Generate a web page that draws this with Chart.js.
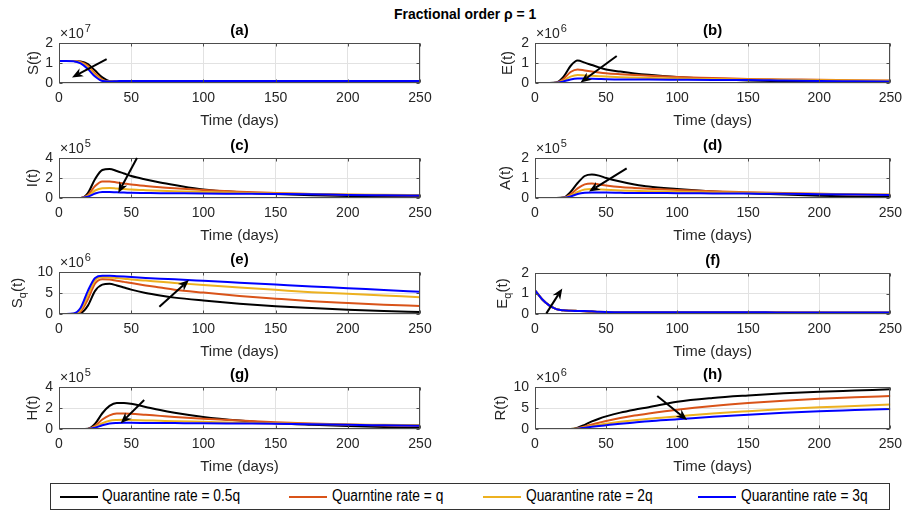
<!DOCTYPE html>
<html>
<head>
<meta charset="utf-8">
<script src="https://cdn.jsdelivr.net/npm/chart.js@4.4.1/dist/chart.umd.min.js"></script>
<style>
  body { margin: 0; background: #fff; font-family: "Liberation Sans", Arial, sans-serif; }
  #page { position: relative; width: 909px; height: 513px; overflow: hidden; }
  canvas { position: absolute; }
  #title { position: absolute; left: 394px; top: 5px; font-weight: bold; font-size: 15px; color: #000; white-space: nowrap; transform: scaleX(0.93); transform-origin: left center; }
  #legend { position: absolute; left: 50px; top: 483px; width: 838px; height: 25px; border: 1px solid #333; background: #fff; }
  #legend .item { position: absolute; top: 3px; font-size: 16px; color: #000; white-space: nowrap; transform: scaleX(0.86); transform-origin: left center; }
  #legend .swatch { position: absolute; top: 12px; width: 38px; height: 2px; }
</style>
</head>
<body>
<div id="page">
  <div id="title">Fractional order ρ = 1</div>
  <div id="legend"></div>
</div>
<script>
// shared time axis (days)
const days = [0, 5, 10, 15, 20, 25, 30, 35, 40, 45, 50, 60, 70, 80, 100, 125, 150, 175, 200, 225, 250];
const xTicks = [0, 50, 100, 150, 200, 250];
const rateLabels = ['Quarantine rate = 0.5q', 'Quarntine rate = q', 'Quarantine rate = 2q', 'Quarantine rate = 3q'];
const rateColors = ['#000000', '#D95319', '#EDB120', '#0000FF'];

// (a) S(t), x10^7
const S_05q = [1.1, 1.1, 1.1, 1.08, 0.95, 0.62, 0.28, 0.09, 0.06, 0.08, 0.1, 0.1, 0.1, 0.1, 0.1, 0.1, 0.1, 0.1, 0.1, 0.1, 0.1];
const S_q   = [1.1, 1.1, 1.1, 1.05, 0.86, 0.48, 0.17, 0.07, 0.07, 0.09, 0.1, 0.1, 0.1, 0.1, 0.1, 0.1, 0.1, 0.1, 0.1, 0.1, 0.1];
const S_2q  = [1.1, 1.1, 1.1, 1.02, 0.79, 0.40, 0.13, 0.07, 0.08, 0.1, 0.1, 0.1, 0.1, 0.1, 0.1, 0.1, 0.1, 0.1, 0.1, 0.1, 0.1];
const S_3q  = [1.1, 1.1, 1.09, 0.98, 0.70, 0.32, 0.10, 0.08, 0.09, 0.1, 0.1, 0.1, 0.1, 0.1, 0.1, 0.1, 0.1, 0.1, 0.1, 0.1, 0.1];

// (b) E(t), x10^6
const E_05q = [0, 0, 0, 0.02, 0.3, 0.85, 1.12, 1.02, 0.9, 0.78, 0.68, 0.57, 0.48, 0.41, 0.3, 0.2, 0.13, 0.09, 0.05, 0.03, 0.02];
const E_q   = [0, 0, 0, 0.01, 0.2, 0.55, 0.68, 0.63, 0.58, 0.53, 0.49, 0.44, 0.4, 0.36, 0.3, 0.25, 0.2, 0.18, 0.16, 0.14, 0.12];
const E_2q  = [0, 0, 0, 0.01, 0.12, 0.32, 0.4, 0.38, 0.36, 0.34, 0.32, 0.29, 0.27, 0.25, 0.22, 0.2, 0.18, 0.16, 0.14, 0.12, 0.11];
const E_3q  = [0, 0, 0, 0.01, 0.08, 0.18, 0.22, 0.22, 0.21, 0.2, 0.19, 0.18, 0.18, 0.17, 0.16, 0.15, 0.15, 0.12, 0.1, 0.09, 0.08];

// (c) I(t), x10^5
const I_05q = [0, 0, 0, 0, 0.5, 1.9, 2.8, 2.9, 2.7, 2.45, 2.2, 1.85, 1.55, 1.3, 0.85, 0.58, 0.4, 0.28, 0.2, 0.14, 0.1];
const I_q   = [0, 0, 0, 0, 0.3, 1.2, 1.65, 1.65, 1.55, 1.45, 1.35, 1.2, 1.07, 0.97, 0.8, 0.62, 0.5, 0.4, 0.33, 0.28, 0.24];
const I_2q  = [0, 0, 0, 0, 0.2, 0.75, 0.98, 1.0, 0.95, 0.9, 0.85, 0.78, 0.72, 0.67, 0.6, 0.52, 0.46, 0.41, 0.36, 0.32, 0.29];
const I_3q  = [0, 0, 0, 0, 0.12, 0.45, 0.6, 0.6, 0.57, 0.55, 0.52, 0.5, 0.48, 0.47, 0.45, 0.43, 0.41, 0.38, 0.3, 0.27, 0.25];

// (d) A(t), x10^5
const A_05q = [0, 0, 0, 0, 0.02, 0.3, 0.75, 1.1, 1.18, 1.12, 1.0, 0.82, 0.68, 0.57, 0.45, 0.33, 0.24, 0.17, 0.11, 0.07, 0.05];
const A_q   = [0, 0, 0, 0, 0.01, 0.18, 0.48, 0.68, 0.72, 0.68, 0.63, 0.55, 0.5, 0.46, 0.4, 0.34, 0.29, 0.25, 0.21, 0.18, 0.16];
const A_2q  = [0, 0, 0, 0, 0.01, 0.12, 0.3, 0.42, 0.45, 0.43, 0.41, 0.38, 0.36, 0.34, 0.31, 0.28, 0.26, 0.23, 0.21, 0.19, 0.17];
const A_3q  = [0, 0, 0, 0, 0.01, 0.08, 0.2, 0.26, 0.28, 0.27, 0.27, 0.26, 0.25, 0.25, 0.24, 0.23, 0.22, 0.21, 0.19, 0.17, 0.15];

// (e) Sq(t), x10^6
const Sq_05q = [0, 0, 0, 0.2, 2.0, 5.5, 7.0, 7.2, 6.8, 6.3, 5.8, 5.0, 4.4, 3.9, 3.2, 2.45, 1.85, 1.4, 1.0, 0.7, 0.5];
const Sq_q   = [0, 0, 0.02, 0.6, 3.5, 7.3, 8.3, 8.2, 7.9, 7.65, 7.4, 6.8, 6.3, 5.8, 5.1, 4.3, 3.65, 3.05, 2.6, 2.2, 1.9];
const Sq_2q  = [0, 0, 0.05, 1.0, 4.5, 8.0, 8.8, 8.7, 8.55, 8.4, 8.2, 7.95, 7.65, 7.4, 6.9, 6.3, 5.75, 5.2, 4.8, 4.4, 4.0];
const Sq_3q  = [0, 0, 0.1, 1.5, 5.5, 8.6, 9.1, 9.1, 9.0, 8.9, 8.8, 8.6, 8.4, 8.25, 7.9, 7.45, 7.0, 6.55, 6.15, 5.7, 5.3];

// (f) Eq(t)
const Eq_05q = [1.15, 0.72, 0.42, 0.24, 0.18, 0.16, 0.15, 0.14, 0.12, 0.1, 0.09, 0.08, 0.08, 0.08, 0.08, 0.08, 0.08, 0.07, 0.06, 0.06, 0.06];
const Eq_q   = [1.15, 0.72, 0.42, 0.24, 0.18, 0.16, 0.15, 0.14, 0.12, 0.1, 0.09, 0.09, 0.08, 0.08, 0.08, 0.08, 0.08, 0.07, 0.07, 0.06, 0.06];
const Eq_2q  = [1.15, 0.72, 0.42, 0.24, 0.18, 0.16, 0.15, 0.15, 0.13, 0.11, 0.1, 0.09, 0.09, 0.09, 0.09, 0.08, 0.08, 0.07, 0.07, 0.07, 0.07];
const Eq_3q  = [1.15, 0.72, 0.42, 0.24, 0.18, 0.16, 0.15, 0.15, 0.13, 0.11, 0.1, 0.09, 0.09, 0.09, 0.09, 0.09, 0.09, 0.07, 0.07, 0.07, 0.07];

// (g) H(t), x10^5
const H_05q = [0, 0, 0, 0, 0.02, 0.5, 1.5, 2.2, 2.48, 2.48, 2.4, 2.1, 1.8, 1.55, 1.15, 0.8, 0.55, 0.4, 0.28, 0.18, 0.1];
const H_q   = [0, 0, 0, 0, 0.01, 0.3, 0.9, 1.3, 1.47, 1.48, 1.45, 1.35, 1.25, 1.15, 0.98, 0.8, 0.65, 0.52, 0.42, 0.34, 0.28];
const H_2q  = [0, 0, 0, 0, 0.01, 0.2, 0.55, 0.78, 0.86, 0.88, 0.86, 0.82, 0.78, 0.74, 0.68, 0.6, 0.54, 0.48, 0.43, 0.4, 0.37];
const H_3q  = [0, 0, 0, 0, 0.01, 0.12, 0.35, 0.52, 0.58, 0.6, 0.59, 0.58, 0.57, 0.56, 0.54, 0.52, 0.5, 0.46, 0.4, 0.35, 0.3];

// (h) R(t), x10^6
const R_05q = [0, 0, 0, 0, 0, 0, 0.3, 1.0, 1.8, 2.45, 3.0, 3.9, 4.6, 5.2, 6.5, 7.4, 8.0, 8.5, 8.85, 9.15, 9.45];
const R_q   = [0, 0, 0, 0, 0, 0, 0.15, 0.6, 1.1, 1.5, 1.9, 2.6, 3.2, 3.7, 4.6, 5.5, 6.2, 6.75, 7.2, 7.55, 7.85];
const R_2q  = [0, 0, 0, 0, 0, 0, 0.1, 0.4, 0.7, 1.0, 1.25, 1.7, 2.1, 2.45, 3.0, 3.7, 4.25, 4.75, 5.15, 5.5, 5.85];
const R_3q  = [0, 0, 0, 0, 0, 0, 0.07, 0.3, 0.52, 0.72, 0.9, 1.25, 1.55, 1.85, 2.3, 2.9, 3.4, 3.85, 4.25, 4.5, 4.75];

// arrows: [tailDay, tailValue, headDay, headValue]
const arrowA = [33, 1.19, 9, 0.28];
const arrowB = [57.5, 1.35, 32, 0.02];
const arrowC = [54, 4.0, 41, 0.5];
const arrowD = [64.5, 1.48, 38, 0.32];
const arrowE = [69.5, 1.74, 90, 8.1];
const arrowF = [8, 0.03, 19.2, 1.25];
const arrowG = [59, 2.76, 42.7, 0.54];
const arrowH = [86, 7.86, 107, 2.14];

const FONT = '"Liberation Sans", Arial, sans-serif';
const TXT = '#262626';
Chart.defaults.font.family = FONT;

// layout of the 8 panels: plot rect [left, top, right, bottom] in page pixels
const panels = [
  { tag: '(a)', ylab: ['S', '', '(t)'], exp: '7', max: 2, step: 1, rows: [S_05q, S_q, S_2q, S_3q], arrow: arrowA, rect: [59, 43, 420, 83], labOff: 21 },
  { tag: '(b)', ylab: ['E', '', '(t)'], exp: '6', max: 2, step: 1, rows: [E_05q, E_q, E_2q, E_3q], arrow: arrowB, rect: [535, 43, 895, 83], labOff: 23 },
  { tag: '(c)', ylab: ['I', '', '(t)'], exp: '5', max: 4, step: 2, rows: [I_05q, I_q, I_2q, I_3q], arrow: arrowC, rect: [59, 158, 420, 198], labOff: 22 },
  { tag: '(d)', ylab: ['A', '', '(t)'], exp: '5', max: 2, step: 1, rows: [A_05q, A_q, A_2q, A_3q], arrow: arrowD, rect: [535, 158, 895, 198], labOff: 25 },
  { tag: '(e)', ylab: ['S', 'q', '(t)'], exp: '6', max: 10, step: 5, rows: [Sq_05q, Sq_q, Sq_2q, Sq_3q], arrow: arrowE, rect: [59, 272, 420, 314], labOff: 37 },
  { tag: '(f)', ylab: ['E', 'q', '(t)'], exp: null, max: 2, step: 1, rows: [Eq_05q, Eq_q, Eq_2q, Eq_3q], arrow: arrowF, rect: [535, 273, 895, 314], labOff: 28 },
  { tag: '(g)', ylab: ['H', '', '(t)'], exp: '5', max: 4, step: 2, rows: [H_05q, H_q, H_2q, H_3q], arrow: arrowG, rect: [59, 387, 420, 429], labOff: 22 },
  { tag: '(h)', ylab: ['R', '', '(t)'], exp: '6', max: 10, step: 5, rows: [R_05q, R_q, R_2q, R_3q], arrow: arrowH, rect: [535, 387, 895, 429], labOff: 30 }
];

function drawArrow(ctx, x1, y1, x2, y2) {
  const a = Math.atan2(y2 - y1, x2 - x1), L = 11, W = 4.5;
  ctx.save();
  ctx.strokeStyle = '#000'; ctx.fillStyle = '#000'; ctx.lineWidth = 2;
  ctx.beginPath();
  ctx.moveTo(x1, y1);
  ctx.lineTo(x2 - L * 0.7 * Math.cos(a), y2 - L * 0.7 * Math.sin(a));
  ctx.stroke();
  ctx.beginPath();
  ctx.moveTo(x2, y2);
  ctx.lineTo(x2 - L * Math.cos(a) + W * Math.sin(a), y2 - L * Math.sin(a) - W * Math.cos(a));
  ctx.lineTo(x2 - L * 0.7 * Math.cos(a), y2 - L * 0.7 * Math.sin(a));
  ctx.lineTo(x2 - L * Math.cos(a) - W * Math.sin(a), y2 - L * Math.sin(a) + W * Math.cos(a));
  ctx.closePath();
  ctx.fill();
  ctx.restore();
}

// box with inward ticks, panel tag, exponent, y label with subscript, arrow
const decor = {
  id: 'decor',
  afterDraw(chart) {
    const p = chart.options.plugins.decor;
    const ctx = chart.ctx, ca = chart.chartArea;
    const xs = chart.scales.x, ys = chart.scales.y;
    ctx.save();
    ctx.strokeStyle = '#4d4d4d'; ctx.lineWidth = 1;
    const L = Math.round(ca.left) + 0.5, T = Math.round(ca.top) + 0.5;
    const R = Math.round(ca.right) - 0.5, B = Math.round(ca.bottom) - 0.5;
    ctx.strokeRect(L, T, R - L, B - T);
    ctx.beginPath();
    xs.ticks.forEach(t => {
      const px = Math.round(xs.getPixelForValue(t.value)) + 0.5;
      ctx.moveTo(px, B); ctx.lineTo(px, B - 3);
      ctx.moveTo(px, T); ctx.lineTo(px, T + 3);
    });
    ys.ticks.forEach(t => {
      const py = Math.round(ys.getPixelForValue(t.value)) + 0.5;
      ctx.moveTo(L, py); ctx.lineTo(L + 3, py);
      ctx.moveTo(R, py); ctx.lineTo(R - 3, py);
    });
    ctx.stroke();

    ctx.fillStyle = '#000';
    ctx.font = 'bold 15px ' + FONT;
    ctx.textAlign = 'center'; ctx.textBaseline = 'middle';
    ctx.fillText(p.tag, (ca.left + ca.right) / 2, ca.top - 12);

    ctx.fillStyle = TXT;
    if (p.exp) {
      ctx.textAlign = 'left'; ctx.textBaseline = 'alphabetic';
      ctx.font = '14px ' + FONT;
      const w = ctx.measureText('\u00d710').width;
      ctx.fillText('\u00d710', ca.left + 1, ca.top - 5);
      ctx.font = '11px ' + FONT;
      ctx.fillText(p.exp, ca.left + 1 + w + 1, ca.top - 11);
    }

    const [m, sub, rest] = p.ylab;
    ctx.translate(ca.left - p.labOff, (ca.top + ca.bottom) / 2);
    ctx.rotate(-Math.PI / 2);
    ctx.textAlign = 'left'; ctx.textBaseline = 'alphabetic';
    ctx.font = '15px ' + FONT;
    const w1 = ctx.measureText(m).width, w3 = ctx.measureText(rest).width;
    ctx.font = '11px ' + FONT;
    const w2 = sub ? ctx.measureText(sub).width : 0;
    let cx = -(w1 + w2 + w3) / 2;
    ctx.font = '15px ' + FONT; ctx.fillText(m, cx, 0); cx += w1;
    if (sub) { ctx.font = '11px ' + FONT; ctx.fillText(sub, cx, 4); cx += w2; }
    ctx.font = '15px ' + FONT; ctx.fillText(rest, cx, 0);
    ctx.restore();

    const ar = p.arrow;
    drawArrow(ctx, xs.getPixelForValue(ar[0]), ys.getPixelForValue(ar[1]), xs.getPixelForValue(ar[2]), ys.getPixelForValue(ar[3]));
  }
};

const page = document.getElementById('page');
const TOP_PAD = 45, X_AXIS_H = 48, Y_AXIS_W = 26;

panels.forEach(p => {
  const [x0, y0, x1, y1] = p.rect;
  const leftCol = x0 < 450;
  const cLeft = leftCol ? 0 : 455;
  const cWidth = leftCol ? 455 : 454;
  const cTop = y0 - TOP_PAD;
  const cHeight = (y1 - y0) + TOP_PAD + X_AXIS_H;
  const canvas = document.createElement('canvas');
  canvas.width = cWidth; canvas.height = cHeight;
  canvas.style.left = cLeft + 'px'; canvas.style.top = cTop + 'px';
  canvas.style.width = cWidth + 'px'; canvas.style.height = cHeight + 'px';
  page.appendChild(canvas);

  new Chart(canvas, {
    type: 'line',
    data: {
      datasets: p.rows.map((vals, i) => ({
        label: rateLabels[i],
        data: days.map((d, k) => ({ x: d, y: vals[k] })),
        borderColor: rateColors[i],
        borderWidth: 2,
        pointRadius: 0,
        fill: false,
        cubicInterpolationMode: 'monotone',
        order: 3 - i
      }))
    },
    options: {
      responsive: false,
      animation: false,
      devicePixelRatio: 1,
      layout: { padding: { left: (x0 - cLeft) - Y_AXIS_W, top: TOP_PAD, right: (cLeft + cWidth) - x1, bottom: 0 } },
      plugins: {
        legend: { display: false },
        tooltip: { enabled: false },
        decor: { tag: p.tag, ylab: p.ylab, exp: p.exp, arrow: p.arrow, labOff: p.labOff }
      },
      scales: {
        x: {
          type: 'linear', min: 0, max: 250,
          afterBuildTicks: s => { s.ticks = xTicks.map(v => ({ value: v })); },
          afterFit: s => { s.height = X_AXIS_H; },
          grid: { color: '#e2e2e2', drawTicks: false },
          border: { display: false },
          ticks: { padding: 7, color: TXT, font: { size: 14 }, maxRotation: 0, autoSkip: false },
          title: { display: true, text: 'Time (days)', color: TXT, font: { size: 15 }, padding: { top: 0, bottom: 1 } }
        },
        y: {
          min: 0, max: p.max,
          afterFit: s => { s.width = Y_AXIS_W; },
          grid: { color: '#e2e2e2', drawTicks: false },
          border: { display: false },
          ticks: { stepSize: p.step, padding: 6, color: TXT, font: { size: 14 } }
        }
      }
    },
    plugins: [decor]
  });
});

// shared legend
const legend = document.getElementById('legend');
const legendPos = [[9, 51], [238, 281], [432, 475], [647, 690]];
rateLabels.forEach((lab, i) => {
  const sw = document.createElement('div');
  sw.className = 'swatch';
  sw.style.left = legendPos[i][0] + 'px';
  sw.style.background = rateColors[i];
  legend.appendChild(sw);
  const t = document.createElement('div');
  t.className = 'item';
  t.style.left = legendPos[i][1] + 'px';
  t.textContent = lab;
  legend.appendChild(t);
});
</script>
</body>
</html>
